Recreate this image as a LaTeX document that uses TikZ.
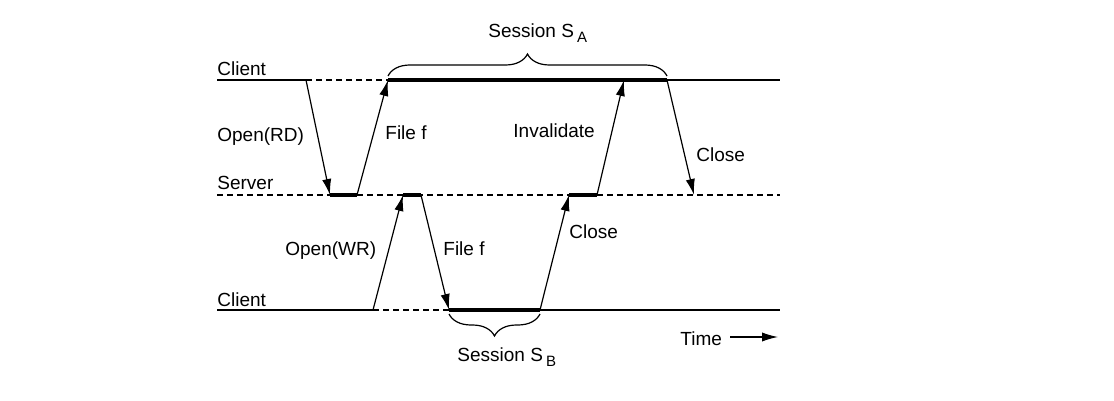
\documentclass[tikz,border=0pt]{standalone}
\usepackage{fontspec}
\setmainfont{Liberation Sans}
\usetikzlibrary{arrows.meta, decorations.pathreplacing, positioning}

\newcommand{\sessidx}[1]{\,\raisebox{-2.5pt}{\fontsize{7.5}{8}\selectfont #1}}

\begin{document}
\begin{tikzpicture}[x=0.5pt, y=-0.5pt,
    line/.style={line width=0.9pt},
    idle/.style={line width=0.7pt, dash pattern=on 3pt off 2pt},
    busy/.style={line width=2.2pt},
    msg/.style={line width=0.6pt, -{Latex[length=8pt,width=4.6pt]}},
    lbl/.style={font=\fontsize{9.5}{11}\selectfont, inner sep=0pt, anchor=base west},
    session/.style={decorate, decoration={brace, amplitude=11pt}, line width=0.6pt}]
  \useasboundingbox (0,0) rectangle (1114,401);
%Client A
  \coordinate (a0) at (217,80);
  \coordinate (a1) at (306,80);
  \coordinate (a2) at (388,80);
  \coordinate (a3) at (624,80);
  \coordinate (a4) at (667,80);
  \coordinate (a5) at (780,80);
%Server
  \coordinate (s0) at (217,195);
  \coordinate (s1) at (330,195);
  \coordinate (s2) at (357,195);
  \coordinate (s3) at (403,195);
  \coordinate (s4) at (421,195);
  \coordinate (s5) at (569,195);
  \coordinate (s6) at (597,195);
  \coordinate (s7) at (694,195);
  \coordinate (s8) at (780,195);
%Client B
  \coordinate (b0) at (217,310);
  \coordinate (b1) at (373,310);
  \coordinate (b2) at (449,310);
  \coordinate (b3) at (540,310);
  \coordinate (b4) at (780,310);
  % time lines
  \draw[line] (a0) -- (a1);
  \draw[idle] (a1) -- (a2);
  \draw[busy] (a2) -- (a4);
  \draw[line] (a4) -- (a5);
  \draw[idle] (s0) -- (s8);
  \draw[busy] (s1) -- (s2);
  \draw[busy] (s3) -- (s4);
  \draw[busy] (s5) -- (s6);
  \draw[line] (b0) -- (b1);
  \draw[idle] (b1) -- (b2);
  \draw[busy] (b2) -- (b3);
  \draw[line] (b3) -- (b4);
  % messages
  \draw[msg] (a1) -- (s1);
  \draw[msg] (s2) -- (a2);
  \draw[msg] (b1) -- (s3);
  \draw[msg] (s4) -- (b2);
  \draw[msg] (b3) -- (s5);
  \draw[msg] (s6) -- (a3);
  \draw[msg] (a4) -- (s7);
  % sessions
  \draw[session] ([yshift=2pt]a2) -- ([yshift=2pt]a4);
  \draw[session] ([yshift=-2pt]b3) -- ([yshift=-2pt]b2);
  % labels
  \node[lbl] (clientA) at (217,76) {Client};
  \node[lbl] (server) at (217,190) {Server};
  \node[lbl] (clientB) at (217,306) {Client};
  \node[lbl] (openrd) at (217,141) {Open(RD)};
  \node[lbl] (filea) at (385,140) {File f};
  \node[lbl] (inval) at (513,138) {Invalidate};
  \node[lbl] (closea) at (696,162) {Close};
  \node[lbl] (openwr) at (285,255) {Open(WR)};
  \node[lbl] (fileb) at (443,255) {File f};
  \node[lbl] (closeb) at (569,238) {Close};
  \node[lbl] (sessA) at (488,38) {Session S\sessidx{A}};
  \node[lbl] (sessB) at (457,361) {Session S\sessidx{B}};
  \node[lbl] (time) at (680,345) {Time};
  \coordinate (timeend) at (778,337);
  \draw[msg] (time.east |- timeend) ++(4pt,0) -- (timeend);
\end{tikzpicture}
\end{document}
